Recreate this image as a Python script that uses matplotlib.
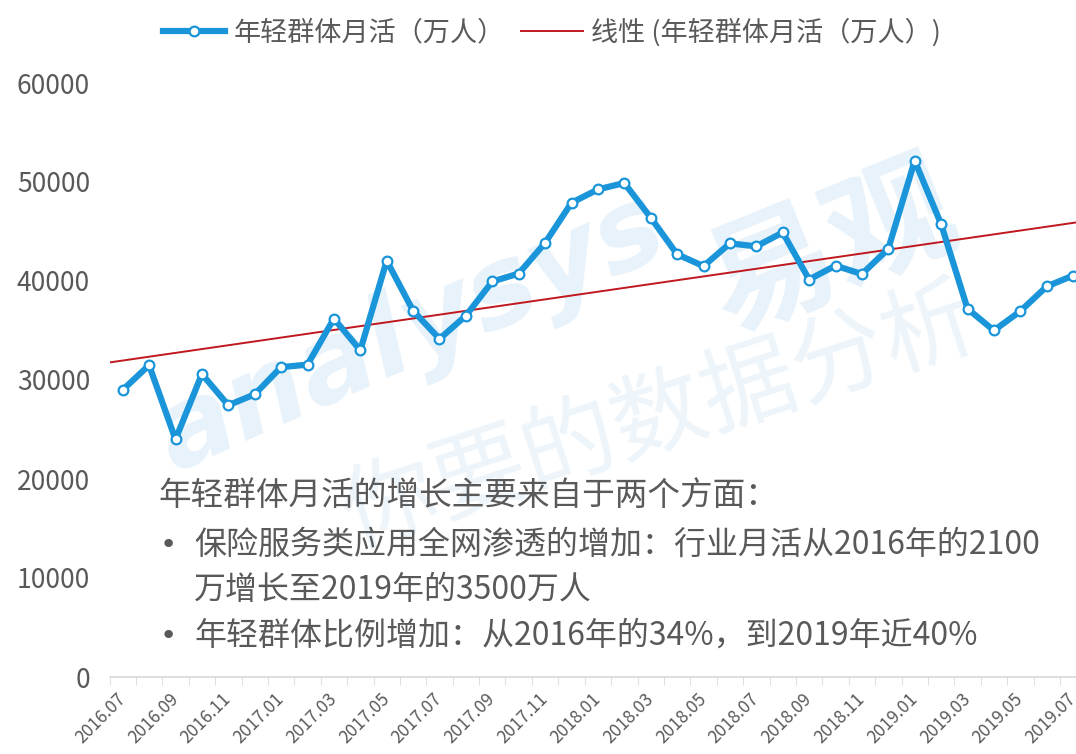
import numpy as np
import matplotlib
matplotlib.use("Agg")
import matplotlib.pyplot as plt

plt.rcParams['font.family'] = ['Noto Sans CJK SC', 'DejaVu Sans']

# monthly active users of young group (10k people), 2016.07 - 2019.07
months = ["2016.07", "2016.08", "2016.09", "2016.10", "2016.11", "2016.12",
          "2017.01", "2017.02", "2017.03", "2017.04", "2017.05", "2017.06",
          "2017.07", "2017.08", "2017.09", "2017.10", "2017.11", "2017.12",
          "2018.01", "2018.02", "2018.03", "2018.04", "2018.05", "2018.06",
          "2018.07", "2018.08", "2018.09", "2018.10", "2018.11", "2018.12",
          "2019.01", "2019.02", "2019.03", "2019.04", "2019.05", "2019.06",
          "2019.07"]
mau = [29000, 31500, 24000, 30600, 27450, 28550,
       31300, 31550, 36200, 33000, 42050, 37000,
       34150, 36500, 39950, 40750, 43850, 47900,
       49250, 49900, 46400, 42700, 41500, 43800,
       43500, 44900, 40150, 41550, 40700, 43250,
       52150, 45750, 37200, 35000, 36950, 39450,
       40550]
yticks = [0, 10000, 20000, 30000, 40000, 50000, 60000]

series_name = "年轻群体月活（万人）"
trend_name = "线性 (年轻群体月活（万人）)"
note_title = "年轻群体月活的增长主要来自于两个方面："
note_items = ["保险服务类应用全网渗透的增加：行业月活从2016年的2100",
              "万增长至2019年的3500万人",
              "年轻群体比例增加：从2016年的34%，到2019年近40%"]
bullets = [True, False, True]

blue = "#1a95d9"
red = "#c0181f"
grey = "#595959"
wm = "#e8f2fa"

W, H = 1076, 754
fig = plt.figure(figsize=(W / 100, H / 100), dpi=100)
# plot area: 37 categories of 26.4 px, first category starting at x=109
ax = fig.add_axes([109.5 / W, 77 / H, 976.8 / W, 594 / H])

x = np.arange(len(mau))

# faint watermark behind the chart
fig.text(140 / W, 1 - 470 / H, "analysys", fontsize=80, color=wm, fontweight="bold",
         style="italic", rotation=24, family="DejaVu Sans", zorder=-1)
fig.text(690 / W, 1 - 330 / H, "易观", fontsize=92, color=wm, fontweight="bold",
         rotation=22, zorder=-1)
fig.text(330 / W, 1 - 545 / H, "你要的数据分析", fontsize=68, color="#edf5fb",
         fontweight="light", rotation=18, zorder=-1)

ax.plot(x, mau, color=blue, lw=4.5, marker="o", markersize=7,
        markerfacecolor="white", markeredgecolor=blue, markeredgewidth=1.6,
        label=series_name, zorder=3, solid_joinstyle="round")

k, b = np.polyfit(x, mau, 1)
xt = np.array([-0.5, len(mau) - 0.5])
ax.plot(xt, k * xt + b, color=red, lw=1.4, label=trend_name, zorder=2)

ax.set_xlim(-0.5, len(mau) - 0.5)
ax.set_ylim(0, 60000)
ax.set_yticks(yticks)
ax.set_yticklabels([str(v) for v in yticks], fontsize=19, color=grey)
ax.set_xticks(x[::2])
ax.set_xticklabels(months[::2], rotation=45, ha="right", va="center",
                   rotation_mode="anchor", fontsize=12.5, color=grey)
ax.set_xticks(x - 0.5, minor=True)
ax.tick_params(axis="x", which="major", length=0, pad=14)
ax.tick_params(axis="x", which="minor", length=6, color="#d9d9d9")
ax.tick_params(axis="y", length=0, pad=14)
for s in ["top", "right", "left"]:
    ax.spines[s].set_visible(False)
ax.spines["bottom"].set_color("#d9d9d9")
ax.spines["bottom"].set_linewidth(1.2)
ax.patch.set_alpha(0)

fig.legend(loc="upper center", bbox_to_anchor=(0.513, 1.008), ncol=2, frameon=False,
           fontsize=19.5, labelcolor=grey, handlelength=2.3, handletextpad=0.3,
           columnspacing=0.6)

fig.text(158 / W, 1 - 496 / H, note_title, fontsize=23.5, color=grey, va="center")
for item, has_bullet, yp in zip(note_items, bullets, [545, 590, 636]):
    if has_bullet:
        fig.text(160 / W, 1 - yp / H, "•", fontsize=21, color=grey, va="center",
                 family="DejaVu Sans")
    fig.text(194 / W, 1 - yp / H, item, fontsize=23, color=grey, va="center")

fig.savefig("out.png", dpi=100)
